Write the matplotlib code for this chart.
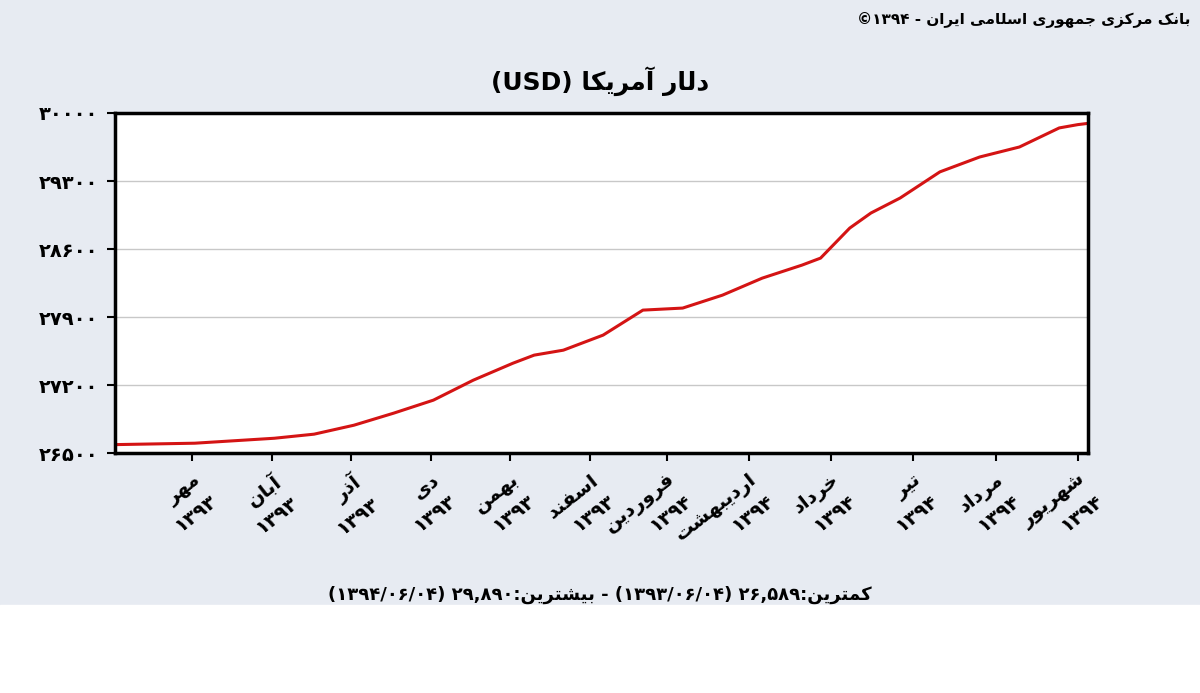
import re
import matplotlib
matplotlib.use("Agg")
import matplotlib.pyplot as plt
from matplotlib.patches import Rectangle

# days since 1393/06/04 and USD rate
days = [0, 29, 59, 74, 89, 104, 119, 134, 149, 157, 168, 183, 198, 213, 228,
        243, 258, 265, 276, 284, 295, 310, 325, 340, 355, 362, 365]
usd = [26589, 26603, 26654, 26696, 26788, 26912, 27046, 27251, 27426, 27509,
       27560, 27715, 27972, 27993, 28126, 28301, 28435, 28507, 28816, 28971,
       29125, 29394, 29547, 29650, 29846, 29880, 29890]
tick_days = [28, 58, 88, 118, 148, 178, 207, 238, 269, 300, 331, 362]
tick_months = ["مهر ۱۳۹۳", "آبان ۱۳۹۳", "آذر ۱۳۹۳", "دی ۱۳۹۳", "بهمن ۱۳۹۳",
               "اسفند ۱۳۹۳", "فروردین ۱۳۹۴", "اردیبهشت ۱۳۹۴", "خرداد ۱۳۹۴",
               "تیر ۱۳۹۴", "مرداد ۱۳۹۴", "شهریور ۱۳۹۴"]
y_ticks = [26500, 27200, 27900, 28600, 29300, 30000]

title = "دلار آمریکا (USD)"
source = "بانک مرکزی جمهوری اسلامی ایران - ۱۳۹۴©"
footer = "کمترین:۲۶,۵۸۹ (۱۳۹۳/۰۶/۰۴) - بیشترین:۲۹,۸۹۰ (۱۳۹۴/۰۶/۰۴)"

# minimal Persian shaping: isolated, final, initial, medial
FORMS = {
    "ا": (0xFE8D, 0xFE8E), "آ": (0xFE81, 0xFE82), "د": (0xFEA9, 0xFEAA),
    "ذ": (0xFEAB, 0xFEAC), "ر": (0xFEAD, 0xFEAE), "ز": (0xFEAF, 0xFEB0),
    "و": (0xFEED, 0xFEEE),
    "ب": (0xFE8F, 0xFE90, 0xFE91, 0xFE92), "ت": (0xFE95, 0xFE96, 0xFE97, 0xFE98),
    "ج": (0xFE9D, 0xFE9E, 0xFE9F, 0xFEA0), "خ": (0xFEA5, 0xFEA6, 0xFEA7, 0xFEA8),
    "س": (0xFEB1, 0xFEB2, 0xFEB3, 0xFEB4), "ش": (0xFEB5, 0xFEB6, 0xFEB7, 0xFEB8),
    "ف": (0xFED1, 0xFED2, 0xFED3, 0xFED4), "ل": (0xFEDD, 0xFEDE, 0xFEDF, 0xFEE0),
    "م": (0xFEE1, 0xFEE2, 0xFEE3, 0xFEE4), "ن": (0xFEE5, 0xFEE6, 0xFEE7, 0xFEE8),
    "ه": (0xFEE9, 0xFEEA, 0xFEEB, 0xFEEC), "ک": (0xFB8E, 0xFB8F, 0xFB90, 0xFB91),
    "ی": (0xFBFC, 0xFBFD, 0xFBFE, 0xFBFF),
}


def fa(text):
    out = []
    for i, ch in enumerate(text):
        if ch not in FORMS:
            out.append(ch)
            continue
        prev = text[i - 1] if i > 0 else ""
        nxt = text[i + 1] if i + 1 < len(text) else ""
        join_prev = prev in FORMS and len(FORMS[prev]) == 4
        join_next = nxt in FORMS and len(FORMS[ch]) == 4
        f = FORMS[ch]
        if join_prev and join_next:
            c = f[3]
        elif join_prev:
            c = f[1]
        elif join_next:
            c = f[2]
        else:
            c = f[0]
        out.append(chr(c))
    s = "".join(out)[::-1]
    s = s.translate(str.maketrans("()", ")("))
    return re.sub(r"[0-9۰-۹A-Za-z,/]+", lambda m: m.group(0)[::-1], s)


def fa_num(n):
    return str(n).translate(str.maketrans("0123456789", "۰۱۲۳۴۵۶۷۸۹"))


def month_label(s):
    m, y = s.split(" ")
    return fa(m) + "\n" + fa(y)


fig = plt.figure(figsize=(12, 6.93), dpi=100)
fig.patch.set_facecolor("#e7ebf2")
fig.patches.append(Rectangle((0, 0), 1, 0.127, transform=fig.transFigure,
                             color="white", zorder=0))
ax = fig.add_axes([0.096, 0.346, 0.811, 0.491])
ax.set_facecolor("white")
ax.plot(days, usd, color="#d41414", linewidth=2.2)
ax.set_xlim(-1, 366)
ax.set_ylim(26500, 30000)
ax.set_yticks(y_ticks)
ax.set_yticklabels([fa_num(v) for v in y_ticks], fontsize=14, fontweight="bold")
ax.set_xticks(tick_days)
ax.set_xticklabels([month_label(s) for s in tick_months], rotation=38,
                   ha="right", rotation_mode="anchor", fontsize=14,
                   fontweight="bold", linespacing=1.5)
ax.grid(axis="y", color="#c8c8c8", linewidth=1)
ax.tick_params(length=6, width=1.5, pad=6)
for sp in ax.spines.values():
    sp.set_linewidth(2.5)

fig.text(0.5, 0.87, fa(title), ha="center", fontsize=18, fontweight="bold")
fig.text(0.992, 0.965, fa(source), ha="right", fontsize=11, fontweight="bold")
fig.text(0.5, 0.135, fa(footer), ha="center", fontsize=13, fontweight="bold")

fig.savefig("out.png", dpi=100, facecolor=fig.get_facecolor())
